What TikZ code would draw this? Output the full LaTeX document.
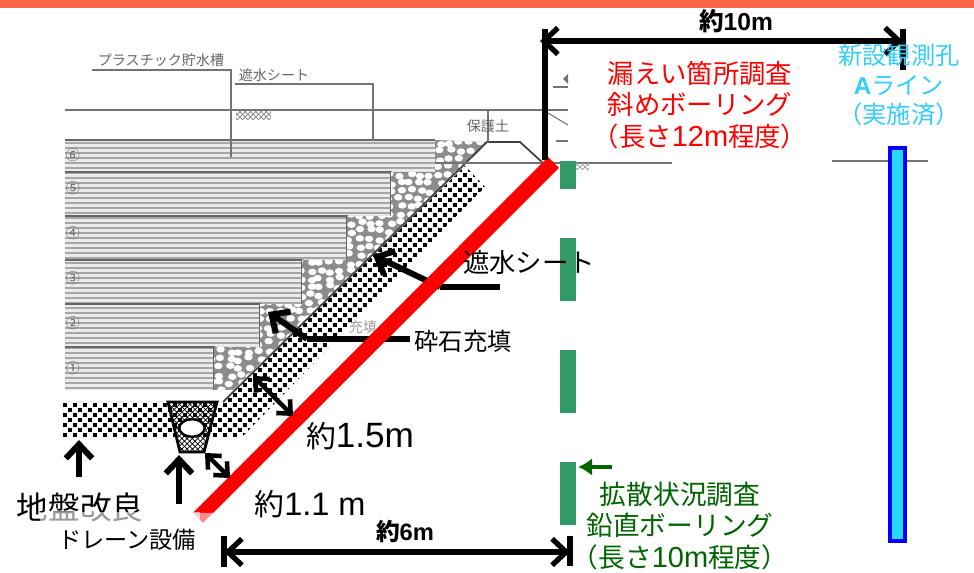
\documentclass[tikz,border=0pt]{standalone}
\usepackage{fontspec}
\setmainfont{Noto Sans CJK JP}
\newfontfamily\latin{Liberation Sans}
\usetikzlibrary{arrows.meta}
\usetikzlibrary{patterns}
\usetikzlibrary{shapes.geometric}
\definecolor{barred}{RGB}{255,0,0}
\definecolor{bargreen}{RGB}{51,153,102}
\definecolor{textgreen}{RGB}{0,100,0}
\definecolor{textcyan}{RGB}{51,204,255}
\definecolor{topband}{RGB}{255,99,71}

\begin{document}
\begin{tikzpicture}
    [
    x=0.02cm,y=-0.02cm,
    fine/.style={draw=black!55,line width=0.6pt},
    faint/.style={text=black!60,font=\fontsize{8}{10}\selectfont,inner sep=0pt},
    layeredge/.style={black!60,line width=1pt},
    bigarrow/.style={line width=3.4pt,-{Straight Barb[length=8pt,width=15pt]}},
    dimarrow/.style={line width=2.6pt,{Straight Barb[length=6pt,width=11pt]}-{Straight Barb[length=6pt,width=11pt]}},
    spanarrow/.style={line width=3pt,{Straight Barb[length=8pt,width=15pt]}-{Straight Barb[length=8pt,width=15pt]}},
    heavy/.style={line width=3pt},
    greenbar/.style={fill=bargreen,draw=none},
    redtext/.style={text=barred,align=center,inner sep=0pt,font=\fontsize{15}{18}\selectfont},
    greentext/.style={text=textgreen,align=center,inner sep=0pt,font=\fontsize{15.2}{18}\selectfont},
    cyantext/.style={text=textcyan,align=center,inner sep=0pt,font=\fontsize{13.8}{16.8}\selectfont},
    blacktext/.style={inner sep=0pt},
    ]
    \useasboundingbox (0,0) rectangle (974,573);
    \fill [topband] (0,0) rectangle (974,8);

    % layers
    \begin{scope}
      \clip (65,140) -- (435,140) -- (435,172) -- (391,172) -- (391,216) -- (347,216) -- (347,260)
        -- (302,260) -- (302,304) -- (260,304) -- (260,347) -- (214,347) -- (214,390) -- (65,390) -- cycle;
      \fill [black!8] (65,140) rectangle (435,390);
      \foreach \y in {143,148,...,390}
        \draw [black!35,line width=0.9pt] (65,\y) -- (435,\y);
    \end{scope}
    \draw [layeredge] (65,140) -- (435,140);
    \draw [layeredge] (65,172) -- (391,172) -- (391,216);
    \draw [layeredge] (65,216) -- (347,216) -- (347,260);
    \draw [layeredge] (65,260) -- (302,260) -- (302,304);
    \draw [layeredge] (65,304) -- (260,304) -- (260,347);
    \draw [layeredge] (65,347) -- (214,347) -- (214,390);

    \node (n6) at (73,155) [faint] {⑥};
    \node (n5) at (73,188) [faint] {⑤};
    \node (n4) at (73,233) [faint] {④};
    \node (n3) at (73,278) [faint] {③};
    \node (n2) at (73,323) [faint] {②};
    \node (n1) at (73,368) [faint] {①};

    % gravel
    \begin{scope}
      \clip (435,140) -- (487,142) -- (233,390) -- (214,390) -- (214,347) -- (260,347) -- (260,304)
        -- (302,304) -- (302,260) -- (347,260) -- (347,216) -- (391,216) -- (391,172) -- (435,172) -- cycle;
      \fill [black!45] (210,135) rectangle (490,395);
      \pgfmathsetseed{7}
      \foreach \x in {210,220,...,490}
        \foreach \y in {135,143,...,395} {
          \pgfmathsetmacro{\dx}{rand*2.5}
          \pgfmathsetmacro{\dy}{rand*2}
          \fill [white] (\x+\dx,\y+\dy) ellipse [x radius=4.2,y radius=3.3];
        }
    \end{scope}

    % dotted band
    \begin{scope}
      \clip (63,402) -- (223,402) -- (465,166) -- (485,187) -- (242,437) -- (63,437) -- cycle;
      \foreach \x in {60,70,...,490}
        \foreach \y in {160,170,...,440} {
          \fill (\x-1.7,\y-1.7) rectangle (\x+1.7,\y+1.7);
          \fill (\x+3.3,\y+3.3) rectangle (\x+6.7,\y+6.7);
        }
    \end{scope}

    % slope, bank and leader lines
    \coordinate (banktop) at (487,142);
    \coordinate (bankright) at (520,142);
    \coordinate (bankfoot) at (543,163);
    \coordinate (slopefoot) at (223,402);
    \draw [black!75,line width=1pt] (slopefoot) -- (banktop) -- (bankright) -- (bankfoot);
    \draw [fine] (65,110) -- (568,110);
    \draw [fine] (435,163) -- (672,163);
    \draw [fine] (832,161) -- (928,161);
    \draw [fine] (488,110) -- (488,142);
    \draw [fine] (92,70) -- (231,70) -- (231,157);
    \draw [fine] (235,84) -- (373,84) -- (373,141);
    \draw [fine] (553,87) -- (568,87);
    \draw [fine] (556,141) -- (568,141);
    \draw [fine] (548,113) -- (568,125);
    \fill [black!55] (563,79) -- (568,74) -- (568,84) -- cycle;
    \fill [pattern=crosshatch,pattern color=black!50] (236,112) rectangle (271,120);
    \fill [pattern=crosshatch,pattern color=black!40] (576,164) rectangle (589,170);

    \node (tanklabel) at (161,60) [faint] {プラスチック貯水槽};
    \node (sheetlabel) at (274,75) [faint] {遮水シート};
    \node (banklabel) at (488,126) [faint] {保護土};
    \node (fillnote) at (363,327) [faint,text=black!40] {充填};

    % drain
    \filldraw [pattern=crosshatch,line width=1.6pt] (168,402) -- (217,402) -- (204,452) -- (180,452) -- cycle;
    \node (pipe) at (192,428) [ellipse,fill=white,draw,line width=1.4pt,minimum width=14.5pt,minimum height=10pt,inner sep=0pt] {};

    % leaders
    \coordinate (sheettip) at (373,255);
    \coordinate (sheetbend) at (440,287);
    \coordinate (sheetend) at (500,287);
    \coordinate (filltip) at (268,312);
    \coordinate (fillbend) at (307,339);
    \coordinate (fillend) at (410,339);
    \draw [heavy] (sheetend) -- (sheetbend);
    \draw [bigarrow] (sheetbend) -- (sheettip);
    \draw [heavy] (fillend) -- (fillbend);
    \draw [bigarrow] (fillbend) -- (filltip);

    % bars
    \fill [barred] (548,157) -- (559,168) -- (213,513) -- (193,513) -- cycle;
    \fill [barred!45] (193,513) -- (213,513) -- (203,523) -- cycle;
    \fill [greenbar] (560,161) rectangle (576,189);
    \fill [greenbar] (560,238) rectangle (576,301);
    \fill [greenbar] (560,350) rectangle (576,413);
    \fill [greenbar] (560,462) rectangle (576,525);
    \filldraw [fill=textcyan!70!cyan,draw=blue,line width=2.8pt] (890,148) rectangle (905,541);

    % dimensions
    \coordinate (wa) at (253,376);
    \coordinate (wb) at (293,416);
    \coordinate (da) at (205,453);
    \coordinate (db) at (230,478);
    \draw [dimarrow] (wa) -- (wb);
    \draw [dimarrow] (da) -- (db);

    \coordinate (topleft) at (540,41);
    \coordinate (topright) at (903,41);
    \coordinate (topcorner) at (545,29);
    \coordinate (topfoot) at (545,160);
    \draw [spanarrow] (topleft) -- (topright);
    \draw [heavy] (topcorner) -- (topfoot);
    \draw [heavy] (903,29) -- (903,70);

    \coordinate (lowleft) at (224,552);
    \coordinate (lowright) at (570,552);
    \draw [spanarrow] (lowleft) -- (lowright);
    \draw [line width=3.4pt] (224,536) -- (224,567);
    \draw [line width=3.4pt] (570,536) -- (570,566);

    \coordinate (soiltail) at (79,477);
    \coordinate (soiltip) at (79,440);
    \coordinate (draintail) at (179,504);
    \coordinate (draintip) at (179,455);
    \draw [bigarrow] (soiltail) -- (soiltip);
    \draw [bigarrow] (draintail) -- (draintip);

    \coordinate (leaktail) at (612,467);
    \coordinate (leaktip) at (578,467);
    \draw [line width=2.2pt,draw=textgreen,-{Latex[length=8pt,width=10pt]}] (leaktail) -- (leaktip);

    % labels
    \node (sheet) at (529,263) [blacktext,font=\fontsize{15}{18}\selectfont] {遮水シート};
    \node (fill) at (463,341) [blacktext,font=\fontsize{13.8}{16}\selectfont] {砕石充填};
    \node (width) at (360,436) [blacktext,font=\fontsize{17}{20}\selectfont] {約{\fontsize{20}{22}\selectfont\latin 1.5m}};
    \node (depth) at (310,504) [blacktext,font=\fontsize{17}{20}\selectfont] {約{\fontsize{18.5}{22}\selectfont\latin 1.1 m}};
    \node (soil) at (80,508) [blacktext,font=\fontsize{18}{20}\selectfont] {地盤改良};
    \fill [white,opacity=0.6] (40,512) rectangle (200,555);
    \node (drain) at (127,540) [blacktext,font=\fontsize{13.2}{16}\selectfont] {ドレーン設備};
    \node (six) at (405,531) [blacktext,font=\fontsize{13.5}{16}\bfseries] {約{\latin 6m}};
    \node (ten) at (736,21) [blacktext,font=\fontsize{14}{16}\bfseries] {約{\latin 10m}};
    \node (leak) at (700,105) [redtext] {漏えい箇所調査\\斜めボーリング\\（長さ{\fontsize{16.5}{18}\selectfont\latin 12m}程度）};
    \node (spread) at (680,526) [greentext] {拡散状況調査\\鉛直ボーリング\\（長さ{\fontsize{16.5}{18}\selectfont\latin 10m}程度）};
    \node (line) at (899,85) [cyantext] {新設観測孔\\{\latin\bfseries A}ライン\\（実施済）};
  \end{tikzpicture}
\end{document}
